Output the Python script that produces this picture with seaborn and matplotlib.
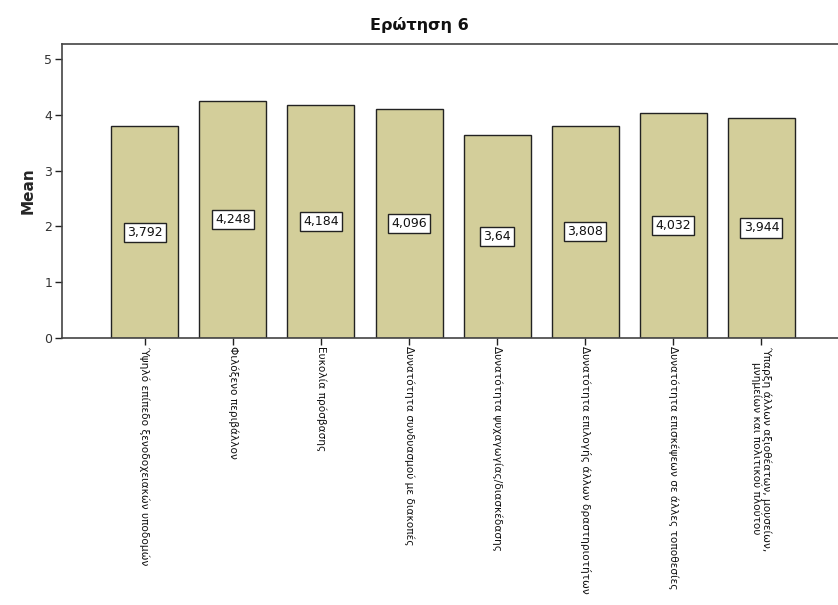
import matplotlib
matplotlib.use("Agg")
import matplotlib.pyplot as plt
import seaborn as sns
import pandas as pd

categories = [
    "Ύψηλό επίπεδο ξενοδοχειακών υποδομών",
    "Φιλόξενο περιβάλλον",
    "Ευκολία πρόσβασης",
    "Δυνατότητα συνδυασμού με διακοπές",
    "Δυνατότητα ψυχαγωγίας/διασκέδασης",
    "Δυνατότητα επιλογής άλλων δραστηριοτήτων",
    "Δυνατότητα επισκέψεων σε άλλες τοποθεσίες",
    "Ύπαρξη άλλων αξιοθέατων, μουσείων,\nμνημείων και πολιτικού πλούτου",
]
means = [3.792, 4.248, 4.184, 4.096, 3.64, 3.808, 4.032, 3.944]
value_labels = ["3,792", "4,248", "4,184", "4,096", "3,64", "3,808", "4,032", "3,944"]
y_ticks = [0, 1, 2, 3, 4, 5]

sns.set_style("white")
plt.rcParams["font.family"] = ["DejaVu Sans"]

df = pd.DataFrame({"cat": categories, "mean": means})

fig = plt.figure(figsize=(8.38, 6.05), dpi=100)
ax = fig.add_axes([0.074, 0.4413, 0.926, 0.486])

sns.barplot(data=df, x="cat", y="mean", color="#D3CE9A", saturation=1,
            width=0.76, edgecolor="#222222", linewidth=1.0, ax=ax)

ax.bar_label(ax.containers[0], labels=value_labels, label_type="center",
             fontsize=9, color="#111111",
             bbox=dict(boxstyle="square,pad=0.25", facecolor="white",
                       edgecolor="#222222", linewidth=1.0))

ax.set_xlim(-0.94, 7.87)
ax.set_ylim(0, 5.27)
ax.set_yticks(y_ticks)
ax.set_yticklabels([str(t) for t in y_ticks], fontsize=9, color="#333333")
ax.set_xticks(range(len(categories)))
ax.set_xticklabels(categories, rotation=270, fontsize=7.6, va="top", ha="center",
                   color="#111111", linespacing=1.0)
ax.tick_params(axis="y", direction="out", length=5, width=1,
               color="#222222", left=True, pad=2)
ax.tick_params(axis="x", direction="out", length=5, width=1,
               color="#222222", bottom=True, pad=0.5)
ax.set_xlabel("")
ax.set_ylabel("Mean", fontsize=11, fontweight="bold", labelpad=6)

for s in ["left", "top", "bottom"]:
    ax.spines[s].set_visible(True)
    ax.spines[s].set_color("#444444")
    ax.spines[s].set_linewidth(1.2)
ax.spines["right"].set_visible(False)

fig.text(0.5, 0.958, "Ερώτηση 6", ha="center", va="center", fontsize=11.5,
         fontweight="bold", color="#111111")

fig.savefig("out.png", dpi=100)
